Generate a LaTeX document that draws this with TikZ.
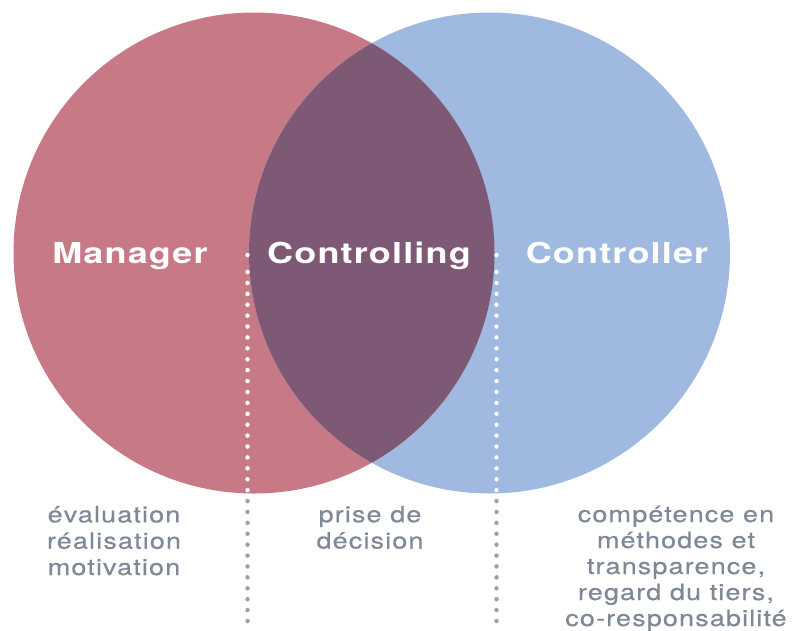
\documentclass[tikz,border=0pt]{standalone}
\usepackage{fontspec}
\setmainfont{TeX Gyre Heros}
\newfontfamily\headfont[FakeStretch=1.25,LetterSpace=4]{TeX Gyre Heros}
\newfontfamily\notefont[FakeStretch=1.2,LetterSpace=5,FakeBold=0.4]{TeX Gyre Heros}
\definecolor{mgrred}{RGB}{200,121,134}
\definecolor{ctlblue}{RGB}{160,185,225}
\definecolor{overlap}{RGB}{125,89,117}
\definecolor{notegray}{RGB}{126,136,150}
\definecolor{dotgray}{RGB}{155,160,172}

\begin{document}
\begin{tikzpicture}[x=1pt,y=-1pt,
    head/.style={text=white,font=\headfont\bfseries\fontsize{28.8}{30}\selectfont,
      anchor=base,inner sep=0pt},
    note/.style={text=notegray,font=\notefont\fontsize{22.5}{26.3}\selectfont,
      align=center,anchor=base,inner sep=0pt},
    dots/.style={line width=4.5pt,line cap=round,dash pattern=on 0pt off 10.906pt}]
    \useasboundingbox (0,0) rectangle (795,630);
    % the two circles and their overlap
    \coordinate (mgr) at (254,253);
    \coordinate (ctl) at (489.5,253);
    \fill[mgrred] (mgr) circle (240.5pt);
    \fill[ctlblue] (ctl) circle (240.5pt);
    \begin{scope}
       \clip (mgr) circle (240.5pt);
       \fill[overlap] (ctl) circle (240.5pt);
    \end{scope}
    % dotted separators
    \coordinate (ltop) at (247.5,255);
    \coordinate (lstart) at (247.5,272);
    \coordinate (lend) at (247.5,621.5);
    \coordinate (rtop) at (496.5,255);
    \coordinate (rstart) at (496.5,272);
    \coordinate (rend) at (496.5,621.5);
    \fill[white] (ltop) circle (2.25pt) (rtop) circle (2.25pt);
    \draw[dots,dotgray] (lstart) -- (lend) (rstart) -- (rend);
    \begin{scope}
       \clip (mgr) circle (240.5pt);
       \draw[dots,white] (lstart) -- (lend) (rstart) -- (rend);
    \end{scope}
    \begin{scope}
       \clip (ctl) circle (240.5pt);
       \draw[dots,white] (lstart) -- (lend) (rstart) -- (rend);
    \end{scope}
    % titles
    \node[head] (manager) at (130,263) {Manager};
    \node[head] (controlling) at (369,263) {Controlling};
    \node[head] (controller) at (617,263) {Controller};
    % notes below (anchored at the last line)
    \node[note] (mgrnote) at (114,575) {évaluation\\réalisation\\motivation};
    \node[note] (decnote) at (370,548.5) {prise de\\décision};
    \node[note,font=\notefont\fontsize{22.5}{26}\selectfont] (ctlnote) at (676,626)
       {compétence en\\méthodes et\\transparence,\\regard du tiers,\\co-responsabilité};
\end{tikzpicture}
\end{document}
